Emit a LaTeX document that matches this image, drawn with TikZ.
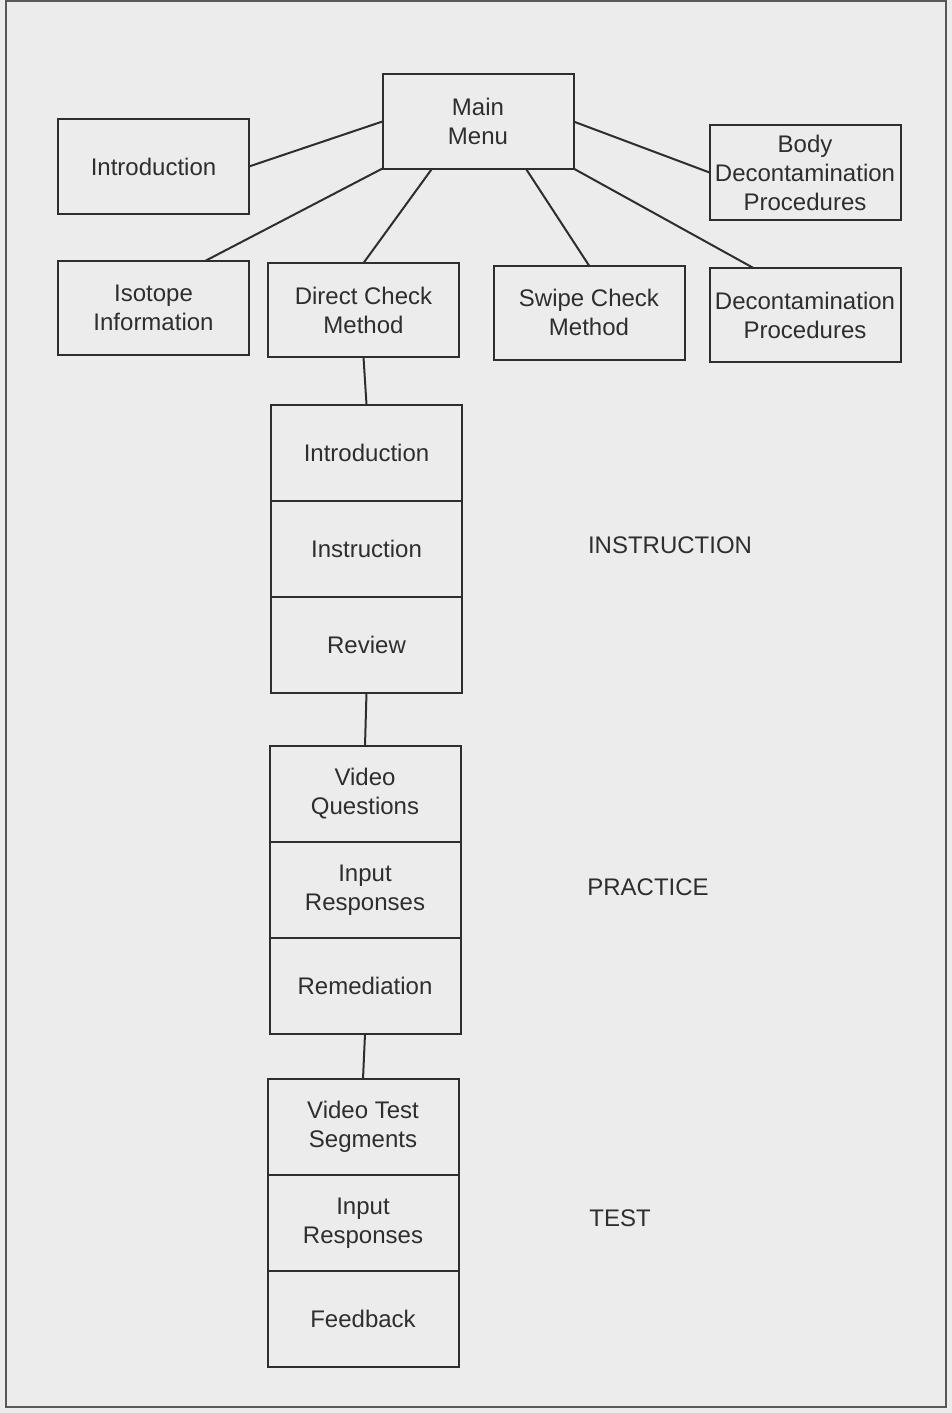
\documentclass[tikz,border=0pt]{standalone}
\usepackage{fontspec}
\setmainfont{Liberation Sans}
\usetikzlibrary{calc}
\definecolor{paper}{HTML}{ECECEC}
\definecolor{ink}{HTML}{2E2E2E}
\begin{document}
\begin{tikzpicture}[x=0.5pt,y=-0.5pt,
  box/.style={draw=ink, line width=1pt, text=ink, align=center, inner sep=0pt, outer sep=0pt,
    minimum width=95.5pt, minimum height=47pt, font=\fontsize{12}{14.5}\selectfont},
  cell/.style={box, minimum height=48pt},
  link/.style={draw=ink, line width=1pt},
  lbl/.style={text=ink, inner sep=0pt, font=\fontsize{12}{14.5}\selectfont}]
% page and frame
\fill[paper] (0,0) rectangle (952,1413);
\useasboundingbox (0,0) rectangle (952,1413);
\draw[ink!80, line width=0.8pt] (6,1) rectangle (946,1407);

% menu level
\node[box] (main) at (478,121.5) {Main\\Menu};
\node[box] (intro) at (153.5,166.5) {Introduction};
\node[box] (body) at (805,172.5) {Body\\Decontamination\\Procedures};
\node[box] (iso) at (153.5,308) {Isotope\\Information};
\node[box] (direct) at (363.5,310) {Direct Check\\Method};
\node[box] (swipe) at (589,312.5) {Swipe Check\\Method};
\node[box] (decon) at (805,315) {Decontamination\\Procedures};

\draw[link] (main.west) -- (intro.east);
\draw[link] (main.east) -- (body.west);
\draw[link] (main.south west) -- ($(iso.north west)!0.77!(iso.north east)$);
\draw[link] ($(main.south west)!0.26!(main.south east)$) -- (direct.north);
\draw[link] ($(main.south west)!0.75!(main.south east)$) -- (swipe.north);
\draw[link] (main.south east) -- ($(decon.north west)!0.23!(decon.north east)$);

% instruction stack
\node[cell] (sintro) at (366.5,452.5) {Introduction};
\node[cell] (sinstr) at (366.5,548.5) {Instruction};
\node[cell] (review) at (366.5,644.5) {Review};
\node[lbl] (linstr) at (670,545) {INSTRUCTION};

% practice stack
\node[cell] (vques) at (365,794) {Video\\Questions};
\node[cell] (pinput) at (365,890) {Input\\Responses};
\node[cell] (remed) at (365,986) {Remediation};
\node[lbl] (lprac) at (648,887) {PRACTICE};

% test stack
\node[cell] (vtest) at (363,1127) {Video Test\\Segments};
\node[cell] (tinput) at (363,1223) {Input\\Responses};
\node[cell] (feed) at (363,1319) {Feedback};
\node[lbl] (ltest) at (620,1218) {TEST};

\draw[link] (direct.south) -- (sintro.north);
\draw[link] (review.south) -- (vques.north);
\draw[link] (remed.south) -- (vtest.north);
\end{tikzpicture}
\end{document}
